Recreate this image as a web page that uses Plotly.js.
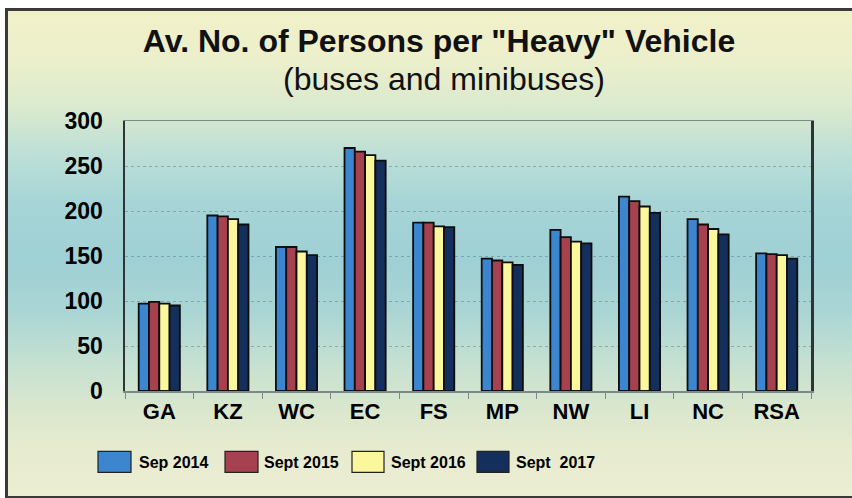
<!DOCTYPE html>
<html>
<head>
<meta charset="utf-8">
<script src="https://cdn.plot.ly/plotly-3.0.1.min.js"></script>
<style>
  html, body { margin: 0; padding: 0; background: #ffffff; }
  #frame {
    position: absolute; left: 5px; top: 8px; width: 850px; height: 485px;
    border-left: 3px solid #3a3a3a; border-top: 3px solid #3a3a3a; border-bottom: 3px solid #3a3a3a;
    background: linear-gradient(to bottom,
      #f1f1c9 0px, #ecefcb 50px, #dbeace 95px, #bfe0d6 140px,
      #a7d5d7 190px, #9fd0d5 250px, #aad5d4 300px, #c4e0d2 350px,
      #dbe7cd 400px, #e7ebcf 440px, #eceed3 485px);
  }
  #chart { position: absolute; left: 0; top: 0; width: 852px; height: 498px; }
</style>
</head>
<body>
<div id="frame"></div>
<div id="chart"></div>
<script>
const categories = ["GA", "KZ", "WC", "EC", "FS", "MP", "NW", "LI", "NC", "RSA"];
const seriesNames = ["Sep 2014", "Sept 2015", "Sept 2016", "Sept  2017"];
const sep2014 = [97, 195, 160, 270, 187, 147, 179, 216, 191, 153];
const sep2015 = [99, 194, 160, 266, 187, 145, 171, 211, 185, 152];
const sep2016 = [97, 191, 155, 262, 183, 143, 166, 205, 180, 151];
const sep2017 = [95, 185, 151, 256, 182, 140, 164, 198, 174, 147];
const seriesColors = ["#3b86cf", "#a6424f", "#fbf79c", "#142f5c"];
const yTicks = [0, 50, 100, 150, 200, 250, 300];
const titleLine1 = "Av. No. of Persons per \"Heavy\" Vehicle";
const titleLine2 = "(buses and minibuses)";

const allValues = [sep2014, sep2015, sep2016, sep2017];
const traces = allValues.map((vals, i) => ({
  type: "bar",
  name: seriesNames[i],
  x: categories,
  y: vals,
  marker: { color: seriesColors[i], line: { color: "#0d0d0d", width: 1.8 } },
  hoverinfo: "x+y+name"
}));

// geometry of the plot area (pixels)
const W = 852, H = 498;
const L = 125, R = 811, T = 121, B = 391.5;
const px = x => (x - L) / (R - L);
const py = y => (B - y) / (B - T);

const legendBoxes = [[98, 131], [225, 258], [352, 384], [477, 509]];
const legendTextX = [137, 262, 389, 514];
const shapes = [];
const annotations = [];
legendBoxes.forEach((b, i) => {
  shapes.push({
    type: "rect", xref: "paper", yref: "paper",
    x0: px(b[0]), x1: px(b[1]), y0: py(473), y1: py(452),
    fillcolor: seriesColors[i], line: { color: "#222222", width: 1.2 }
  });
  annotations.push({
    xref: "paper", yref: "paper", x: px(legendTextX[i]), y: py(463),
    xanchor: "left", yanchor: "middle", showarrow: false,
    text: "<b>" + seriesNames[i].replace("  ", "&nbsp; ") + "</b>",
    font: { family: "Liberation Sans, Arial, sans-serif", size: 16, color: "#000000" }
  });
});
annotations.push({
  xref: "paper", yref: "paper", x: px(444), y: py(79),
  xanchor: "center", yanchor: "middle", showarrow: false,
  text: titleLine2,
  font: { family: "Liberation Sans, Arial, sans-serif", size: 32, color: "#111111" }
});

const layout = {
  width: W, height: H,
  paper_bgcolor: "rgba(0,0,0,0)",
  plot_bgcolor: "rgba(0,0,0,0)",
  margin: { l: L, r: W - R, t: T, b: H - B, pad: 0 },
  showlegend: false,
  barmode: "group",
  bargap: 0.4,
  bargroupgap: 0,
  title: {
    text: "<b>" + titleLine1 + "</b>",
    x: 439 / W, xanchor: "center",
    yref: "container", y: 1 - 41 / H, yanchor: "middle",
    font: { family: "Liberation Sans, Arial, sans-serif", size: 32, color: "#111111" }
  },
  xaxis: {
    type: "category",
    showline: true, linecolor: "#7d8a88", linewidth: 1.5, mirror: true,
    ticks: "outside", tickson: "boundaries", ticklen: 6, tickcolor: "#7d8a88",
    showgrid: false,
    tickfont: { family: "Liberation Sans, Arial, sans-serif", size: 22, color: "#000000", weight: "bold" },
    ticklabelstandoff: 0
  },
  yaxis: {
    range: [0, 300],
    tickvals: yTicks,
    ticktext: yTicks.map(String),
    showline: true, linecolor: "#2f3535", linewidth: 2.5, mirror: true,
    showgrid: true, gridcolor: "rgba(90,110,110,0.45)", griddash: "dot", gridwidth: 1,
    zeroline: false,
    ticks: "",
    tickfont: { family: "Liberation Sans, Arial, sans-serif", size: 23, color: "#000000", weight: "bold" },
    ticklabelstandoff: 15
  },
  shapes: shapes,
  annotations: annotations
};

Plotly.newPlot("chart", traces, layout, { displayModeBar: false, staticPlot: true });
</script>
</body>
</html>
